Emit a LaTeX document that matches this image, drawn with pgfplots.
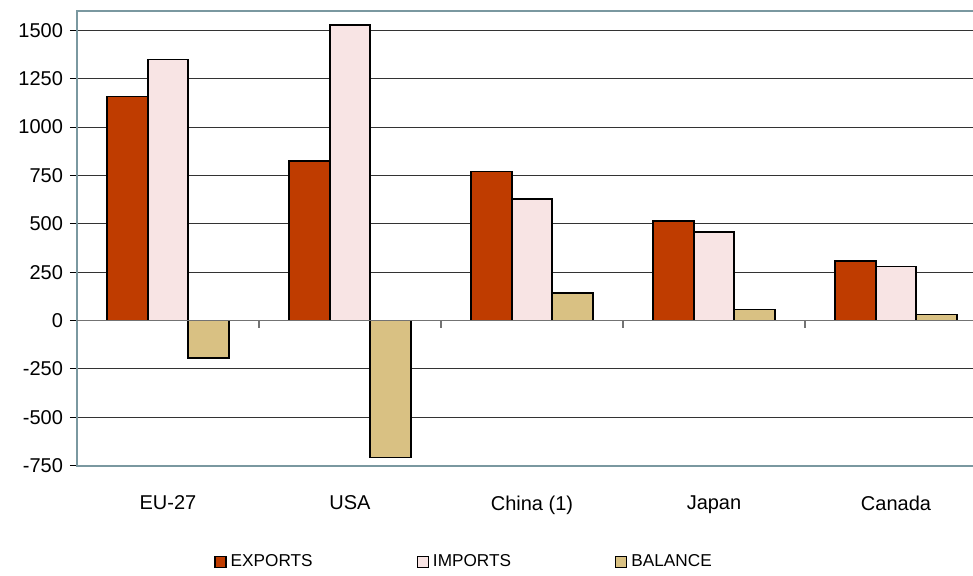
\documentclass[border=0pt]{standalone}
\usepackage{pgfplots}
\pgfplotsset{compat=1.18}
\usepackage{fontspec}
\setmainfont{Liberation Sans}
\definecolor{exportc}{RGB}{191,60,0}
\definecolor{importc}{RGB}{248,228,228}
\definecolor{balancec}{RGB}{217,193,131}
\definecolor{framec}{RGB}{122,152,160}
\begin{document}
\begin{tikzpicture}
\begin{axis}[
  at={(0,0)}, anchor=south west,
  scale only axis,
  width=455pt, height=227.35pt,
  xmin=-0.5, xmax=4.5,
  ymin=-750, ymax=1600,
  ybar=0pt, bar width=20.25pt,
  xtick={0,1,2,3,4},
  xticklabels={EU-27,USA,China (1),Japan,Canada},
  x tick style={draw=none},
  xticklabel style={yshift=-8pt},
  ytick={-750,-500,-250,0,250,500,750,1000,1250,1500},
  yticklabels={-750,-500,-250,0,250,500,750,1000,1250,1500},
  ymajorgrids,
  grid style={black!80, line width=0.5pt},
  y tick style={black, line width=0.5pt},
  tick align=outside,
  major tick length=3.5pt,
  ytick pos=left,
  axis line style={framec, line width=0.8pt},
  ticklabel style={font=\fontsize{10}{12}\selectfont},
  legend columns=3,
  legend style={at={(0.4264,-0.2118)}, anchor=center, draw=none, fill=none,
    font=\fontsize{8.6}{10}\selectfont,
    /tikz/every even column/.append style={column sep=50pt}},
  legend image code/.code={\draw[#1, draw=black, line width=0.7pt] (0pt,-2.75pt) rectangle (5.5pt,2.75pt);},
]
\addplot[ybar, draw=black, line width=0.85pt, fill=exportc] coordinates {(0,1158) (1,826) (2,770) (3,514) (4,309)};
\addplot[ybar, draw=black, line width=0.85pt, fill=importc] coordinates {(0,1349) (1,1527) (2,629) (3,459) (4,280)};
\addplot[ybar, draw=black, line width=0.85pt, fill=balancec] coordinates {(0,-194) (1,-708) (2,143) (3,57) (4,31)};
\legend{EXPORTS,IMPORTS,BALANCE}
\draw[black!55, line width=0.7pt] (axis cs:-0.5,0) -- (axis cs:4.5,0);
\draw[black!55, line width=0.7pt] (axis cs:0.5,0) -- ([yshift=-3.5pt]axis cs:0.5,0);
\draw[black!55, line width=0.7pt] (axis cs:1.5,0) -- ([yshift=-3.5pt]axis cs:1.5,0);
\draw[black!55, line width=0.7pt] (axis cs:2.5,0) -- ([yshift=-3.5pt]axis cs:2.5,0);
\draw[black!55, line width=0.7pt] (axis cs:3.5,0) -- ([yshift=-3.5pt]axis cs:3.5,0);
\end{axis}
\pgfresetboundingbox
\useasboundingbox (-38.5pt,-54.65pt) rectangle (448pt,232.85pt);
\end{tikzpicture}
\end{document}
